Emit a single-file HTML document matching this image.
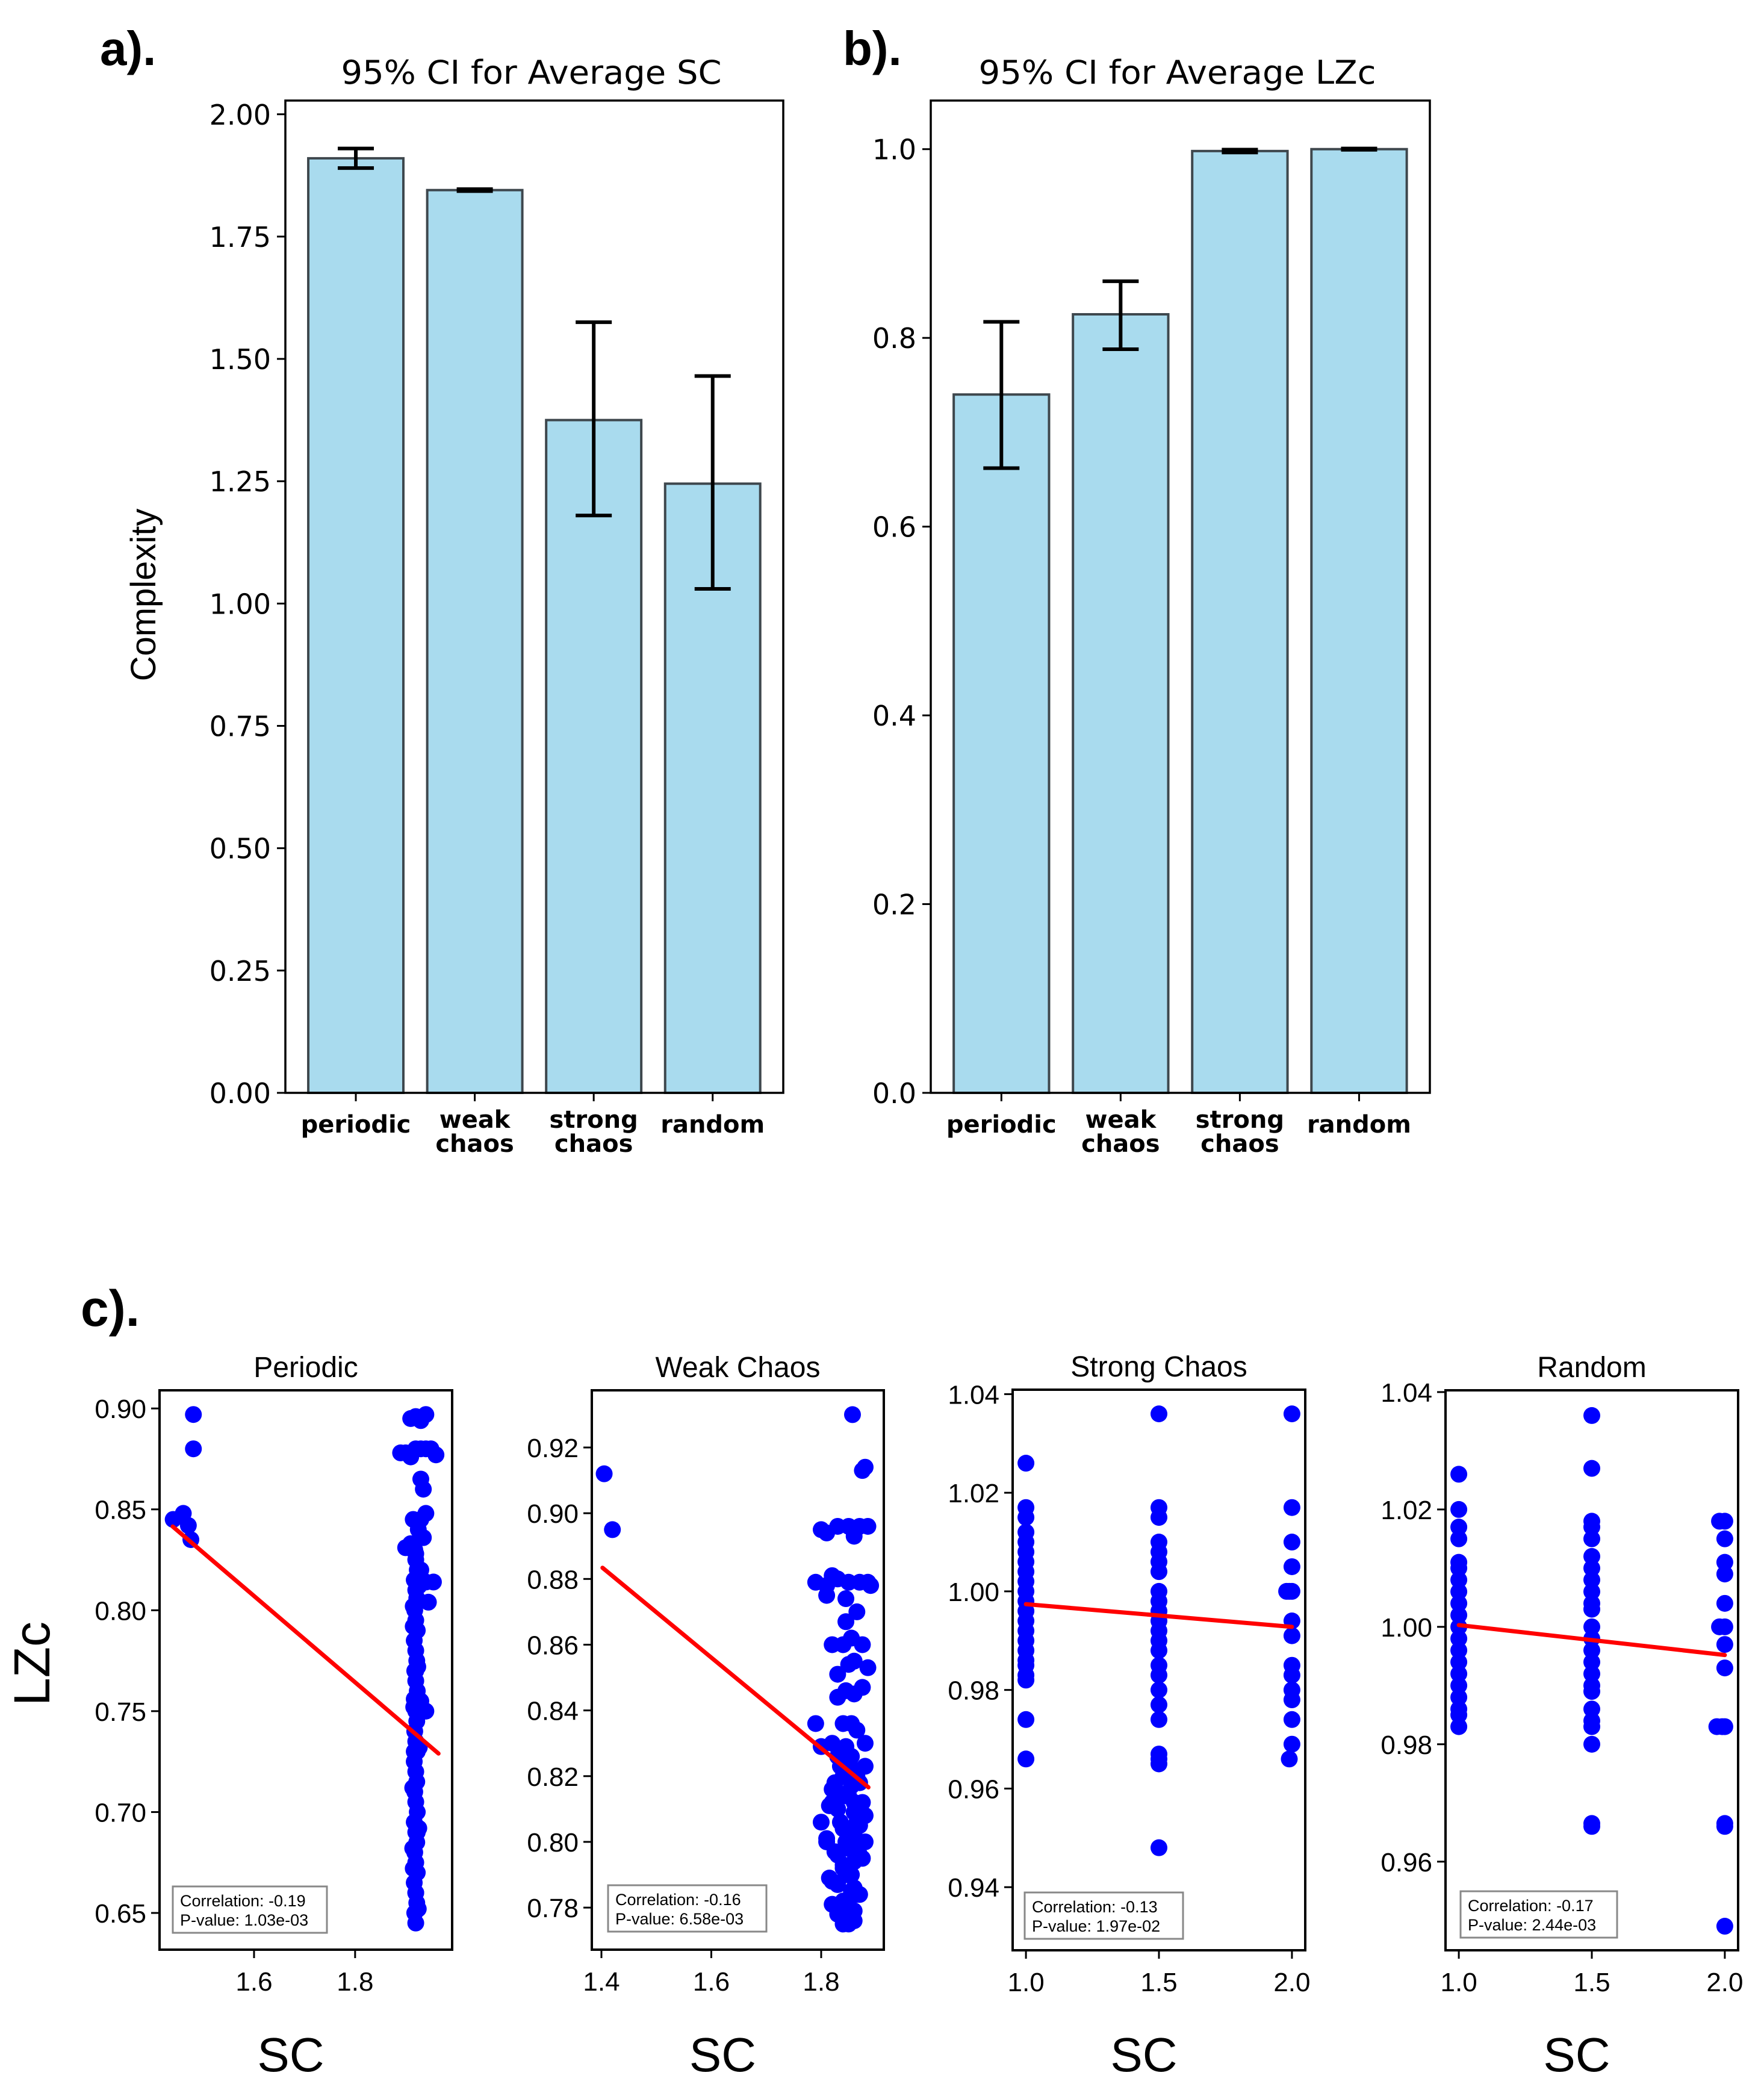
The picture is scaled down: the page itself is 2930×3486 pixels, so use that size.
<!DOCTYPE html>
<html><head><meta charset="utf-8"><style>
html,body{margin:0;padding:0;background:#fff;}
svg{display:block;}
</style></head><body>
<svg id="fig" width="2930" height="3486" viewBox="0 0 2930 3486" xmlns="http://www.w3.org/2000/svg">
<rect width="2930" height="3486" fill="#fff"/>
<text x="166" y="108" font-family="Liberation Sans, sans-serif" font-weight="bold" font-size="80">a).</text>
<text x="1400" y="108" font-family="Liberation Sans, sans-serif" font-weight="bold" font-size="80">b).</text>
<text x="134" y="2202" font-family="Liberation Sans, sans-serif" font-weight="bold" font-size="84">c).</text>
<text transform="translate(258,988) rotate(-90)" text-anchor="middle" font-family="Liberation Sans, sans-serif" font-size="58">Complexity</text>
<text transform="translate(82,2763) rotate(-90)" text-anchor="middle" font-family="Liberation Sans, sans-serif" font-size="84">LZc</text>
<g id="bars"></g>
<g id="scatters"></g>
</svg>
<script>
// ---- Bar chart data ----
const barCategories = [["periodic"], ["weak", "chaos"], ["strong", "chaos"], ["random"]];
const scMeans = [1.91, 1.845, 1.375, 1.245];
const scLow = [1.89, 1.843, 1.18, 1.03];
const scHigh = [1.93, 1.847, 1.575, 1.465];
const scTicks = ["0.00", "0.25", "0.50", "0.75", "1.00", "1.25", "1.50", "1.75", "2.00"];
const lzMeans = [0.74, 0.825, 0.998, 1.0];
const lzLow = [0.662, 0.788, 0.9965, 0.9993];
const lzHigh = [0.817, 0.86, 0.9995, 1.0007];
const lzTicks = ["0.0", "0.2", "0.4", "0.6", "0.8", "1.0"];

// ---- Scatter data ----
const perX = [1.44,1.46,1.47,1.475,1.48,1.48,
 1.89,1.90,1.91,1.92,1.93,1.94,1.95,1.96,1.91,1.92,1.93,1.94,1.93,1.935,1.93,1.94,1.915,1.925,1.935,1.90,1.91,1.92,1.93,1.94,1.955,1.925,1.945,1.915,1.94,1.93,
 1.92,1.918,1.922,1.92,1.917,1.923,1.92,1.918,1.922,1.92,1.917,1.923,1.92,1.918,1.922,1.92,1.917,1.923,1.92,1.918,1.922,1.92,1.917,1.923,1.92,1.918,1.922,1.92,1.917,1.923,1.92,1.918,1.922,1.92,1.917,1.923,1.92,1.918,1.922,1.92,1.917,1.923,1.92,
 1.925,1.915,1.926,1.914,1.927,1.916,1.924,1.915,1.926,1.914];
const perY = [0.845,0.848,0.842,0.835,0.897,0.88,
 0.878,0.878,0.876,0.88,0.88,0.88,0.88,0.877,0.895,0.896,0.894,0.897,0.865,0.86,0.845,0.848,0.845,0.84,0.836,0.831,0.833,0.828,0.82,0.814,0.814,0.814,0.804,0.802,0.75,0.755,
 0.645,0.65,0.655,0.66,0.665,0.67,0.675,0.68,0.685,0.69,0.695,0.70,0.705,0.71,0.715,0.72,0.725,0.73,0.735,0.74,0.745,0.75,0.756,0.76,0.765,0.77,0.775,0.78,0.785,0.79,0.795,0.80,0.806,0.81,0.815,0.82,0.825,0.83,0.79,0.77,0.73,0.69,0.66,
 0.652,0.672,0.692,0.712,0.732,0.752,0.772,0.792,0.812,0.682];
const weakX = [1.405,1.42,1.857,1.875,1.88,1.80,1.81,1.83,1.85,1.86,1.87,1.885,1.79,1.81,1.82,1.83,1.85,1.87,1.885,1.89,1.81,1.845,1.865,1.845,1.82,1.84,1.855,1.875,1.83,1.85,1.86,1.885,1.83,1.845,1.86,1.875,1.79,1.84,1.855,1.80,1.82,1.88,
 1.83,1.85,1.86,1.84,1.87,1.82,1.85,1.86,1.83,1.88,1.80,1.84,1.86,1.87,1.81,1.85,1.83,1.86,1.88,1.84,1.85,1.82,1.86,1.87,1.84,1.85,1.83,1.86,1.84,1.85,1.87,1.83,1.845,1.855,1.865,
 1.81,1.82,1.835,1.845,1.855,1.865,1.875,1.815,1.825,1.835,1.845,1.855,1.865,1.875,1.82,1.83,1.84,1.85,1.86,1.87,1.88,1.825,1.835,1.845,1.855,1.865,1.815,1.84,1.86,1.87];
const weakY = [0.912,0.895,0.93,0.913,0.914,0.895,0.894,0.896,0.896,0.893,0.896,0.896,0.879,0.878,0.881,0.88,0.879,0.879,0.879,0.878,0.875,0.874,0.87,0.867,0.86,0.86,0.862,0.86,0.851,0.854,0.855,0.853,0.844,0.846,0.845,0.847,0.836,0.836,0.836,0.829,0.83,0.83,
 0.826,0.824,0.822,0.82,0.818,0.816,0.814,0.812,0.81,0.808,0.806,0.804,0.802,0.80,0.80,0.798,0.796,0.794,0.80,0.792,0.79,0.788,0.786,0.784,0.782,0.78,0.778,0.776,0.775,0.775,0.808,0.815,0.79,0.785,0.82,
 0.801,0.812,0.823,0.829,0.817,0.806,0.795,0.789,0.797,0.806,0.814,0.826,0.834,0.812,0.781,0.787,0.793,0.803,0.809,0.796,0.823,0.818,0.827,0.8,0.79,0.784,0.811,0.777,0.779,0.805];
const strongX = [1,1,1,1,1,1,1,1,1,1,1,1,1,1,1,1,1,1,1,1,1,1,
 1.5,1.5,1.5,1.5,1.5,1.5,1.5,1.5,1.5,1.5,1.5,1.5,1.5,1.5,1.5,1.5,1.5,1.5,1.5,1.5,1.5,1.5,1.5,
 2,2,2,2,1.98,1.99,2,2,2,2,2,2,2,2,2,1.99];
const strongY = [1.026,1.017,1.015,1.012,1.01,1.008,1.006,1.004,1.002,1.0,0.998,0.996,0.994,0.992,0.99,0.988,0.986,0.985,0.983,0.982,0.974,0.966,
 1.036,1.017,1.015,1.01,1.008,1.006,1.004,1.0,0.998,0.996,0.994,0.992,0.99,0.988,0.985,0.983,0.98,0.977,0.974,0.967,0.966,0.965,0.948,
 1.036,1.017,1.01,1.005,1.0,1.0,1.0,0.994,0.991,0.985,0.983,0.98,0.978,0.974,0.969,0.966];
const randX = [1,1,1,1,1,1,1,1,1,1,1,1,1,1,1,1,1,1,1,1,
 1.5,1.5,1.5,1.5,1.5,1.5,1.5,1.5,1.5,1.5,1.5,1.5,1.5,1.5,1.5,1.5,1.5,1.5,1.5,1.5,1.5,1.5,1.5,1.5,
 1.98,2,2,2,2,1.98,2,2,2,2,1.97,1.99,2,2,2,2];
const randY = [1.026,1.02,1.017,1.015,1.011,1.01,1.008,1.006,1.004,1.002,1.0,0.998,0.996,0.994,0.992,0.99,0.988,0.986,0.985,0.983,
 1.036,1.027,1.018,1.017,1.015,1.012,1.01,1.008,1.006,1.004,1.003,1.0,0.998,0.996,0.994,0.992,0.99,0.989,0.986,0.984,0.983,0.98,0.9665,0.966,
 1.018,1.018,1.015,1.011,1.009,1.0,1.0,1.004,0.997,0.993,0.983,0.983,0.983,0.9665,0.966,0.949];
const corrText = ["Correlation: -0.19", "Correlation: -0.16", "Correlation: -0.13", "Correlation: -0.17"];
const pText = ["P-value: 1.03e-03", "P-value: 6.58e-03", "P-value: 1.97e-02", "P-value: 2.44e-03"];
const fitStart = [0.8415, 0.8834, 0.9974, 1.0003];
const fitEnd = [0.729, 0.8166, 0.9928, 0.9952];
const panelTitles = ["Periodic", "Weak Chaos", "Strong Chaos", "Random"];
const perTicksY = ["0.65","0.70","0.75","0.80","0.85","0.90"];
const perTicksX = ["1.6","1.8"];
const weakTicksY = ["0.78","0.80","0.82","0.84","0.86","0.88","0.90","0.92"];
const weakTicksX = ["1.4","1.6","1.8"];
const strongTicksY = ["0.94","0.96","0.98","1.00","1.02","1.04"];
const randTicksY = ["0.96","0.98","1.00","1.02","1.04"];
const unitTicksX = ["1.0","1.5","2.0"];

const NS = "http://www.w3.org/2000/svg";
function mk(tag, attrs, parent) {
  const e = document.createElementNS(NS, tag);
  for (const k in attrs) e.setAttribute(k, attrs[k]);
  parent.appendChild(e);
  return e;
}

function barChart(cfg) {
  const g = mk("g", {}, document.getElementById("bars"));
  
  
  const L = cfg.left, R = cfg.right, T = cfg.top, B = cfg.bottom;
  const y = v => B - (v - cfg.ymin) / (cfg.ymax - cfg.ymin) * (B - T);
  const W = R - L;
  const xc = i => L + W * (0.1415 + i * 0.2389);
  const bw = W * 0.191;
  for (let i = 0; i < cfg.means.length; i++) {
    const b = mk("rect", {x: xc(i) - bw / 2, y: y(cfg.means[i]), width: bw, height: y(0) - y(cfg.means[i]), fill: "#a9dbee", stroke: "#3e474d", "stroke-width": 4}, g);
    
    
    const eb = mk("g", {stroke: "#000", "stroke-width": 6}, g);
    
    
    mk("line", {x1: xc(i), x2: xc(i), y1: y(cfg.low[i]), y2: y(cfg.high[i])}, eb);
    mk("line", {x1: xc(i) - 30, x2: xc(i) + 30, y1: y(cfg.low[i]), y2: y(cfg.low[i])}, eb);
    mk("line", {x1: xc(i) - 30, x2: xc(i) + 30, y1: y(cfg.high[i]), y2: y(cfg.high[i])}, eb);
    mk("line", {x1: xc(i), x2: xc(i), y1: B, y2: B + 14, stroke: "#000", "stroke-width": 3}, g);
    const lines = barCategories[i];
    lines.forEach((s, k) => {
      const t = mk("text", {x: xc(i), y: lines.length === 1 ? B + 66 : B + 58 + k * 40, "text-anchor": "middle", "font-family": "DejaVu Sans, sans-serif", "font-weight": "bold", "font-size": 40}, g);
      
      
      t.textContent = s;
    });
  }
  cfg.ticks.forEach(s => {
    const v = parseFloat(s);
    mk("line", {x1: L - 14, x2: L, y1: y(v), y2: y(v), stroke: "#000", "stroke-width": 3}, g);
    const t = mk("text", {x: L - 24, y: y(v) + 17, "text-anchor": "end", "font-family": "DejaVu Sans, sans-serif", "font-size": 46}, g);
    
    
    t.textContent = s;
  });
  const f = mk("rect", {x: L, y: T, width: W, height: B - T, fill: "none", stroke: "#000", "stroke-width": 3.5}, g);
  
  
  const tt = mk("text", {x: (L + R) / 2 - 5, y: T - 28, "text-anchor": "middle", "font-family": "DejaVu Sans, sans-serif", "font-size": 54, textLength: cfg.titleLen, lengthAdjust: "spacingAndGlyphs"}, g);
  
  
  tt.textContent = cfg.title;
}
barChart({name: "sc-bar-chart", left: 474, right: 1301, top: 167, bottom: 1815, ymin: 0, ymax: 2.028, means: scMeans, low: scLow, high: scHigh, ticks: scTicks, title: "95% CI for Average SC", titleLen: 632});
barChart({name: "lzc-bar-chart", left: 1546, right: 2375, top: 167, bottom: 1815, ymin: 0, ymax: 1.0515, means: lzMeans, low: lzLow, high: lzHigh, ticks: lzTicks, title: "95% CI for Average LZc", titleLen: 660});

function scatter(cfg, idx) {
  const g = mk("g", {}, document.getElementById("scatters"));
  
  
  const L = cfg.left, R = cfg.right, T = cfg.top, B = cfg.bottom;
  const x = v => L + (v - cfg.xmin) / (cfg.xmax - cfg.xmin) * (R - L);
  const y = v => B - (v - cfg.ymin) / (cfg.ymax - cfg.ymin) * (B - T);
  const clip = mk("clipPath", {id: "clip" + idx}, g);
  mk("rect", {x: L, y: T, width: R - L, height: B - T}, clip);
  const pts = mk("g", {"clip-path": "url(#clip" + idx + ")"}, g);
  for (let i = 0; i < cfg.xs.length; i++) {
    const c = mk("circle", {cx: x(cfg.xs[i]), cy: y(cfg.ys[i]), r: 14, fill: "#0000ff"}, pts);
    
    
  }
  const ln = mk("line", {x1: x(cfg.fx[0]), y1: y(fitStart[idx]), x2: x(cfg.fx[1]), y2: y(fitEnd[idx]), stroke: "#ff0000", "stroke-width": 7, "stroke-linecap": "round"}, g);
  
  
  cfg.ty.forEach(s => {
    const v = parseFloat(s);
    mk("line", {x1: L - 14, x2: L, y1: y(v), y2: y(v), stroke: "#000", "stroke-width": 3}, g);
    const t = mk("text", {x: L - 22, y: y(v) + 16, "text-anchor": "end", "font-family": "Liberation Sans, sans-serif", "font-size": 44}, g);
    
    
    t.textContent = s;
  });
  cfg.tx.forEach(s => {
    const v = parseFloat(s);
    mk("line", {x1: x(v), x2: x(v), y1: B, y2: B + 14, stroke: "#000", "stroke-width": 3}, g);
    const t = mk("text", {x: x(v), y: B + 68, "text-anchor": "middle", "font-family": "Liberation Sans, sans-serif", "font-size": 44}, g);
    
    
    t.textContent = s;
  });
  const f = mk("rect", {x: L, y: T, width: R - L, height: B - T, fill: "none", stroke: "#000", "stroke-width": 4}, g);
  
  
  const bx = mk("rect", {x: cfg.box[0], y: cfg.box[1], width: cfg.box[2], height: 77, fill: "#fff", "fill-opacity": 0.8, stroke: "#888", "stroke-width": 3}, g);
  
  
  const t1 = mk("text", {x: cfg.box[0] + 12, y: cfg.box[1] + 33, "font-family": "Liberation Sans, sans-serif", "font-size": 27}, g);
  
  
  t1.textContent = corrText[idx];
  const t2 = mk("text", {x: cfg.box[0] + 12, y: cfg.box[1] + 65, "font-family": "Liberation Sans, sans-serif", "font-size": 27}, g);
  
  
  t2.textContent = pText[idx];
  const tt = mk("text", {x: (L + R) / 2, y: T - 22, "text-anchor": "middle", "font-family": "Liberation Sans, sans-serif", "font-size": 48}, g);
  
  
  tt.textContent = panelTitles[idx];
  const xl = mk("text", {x: (L + R) / 2 - 25, y: 3440, "text-anchor": "middle", "font-family": "Liberation Sans, sans-serif", "font-size": 80}, g);
  
  
  xl.textContent = "SC";
}
scatter({name: "periodic-scatter", left: 265, right: 751, top: 2309, bottom: 3238, xmin: 1.413, xmax: 1.992, ymin: 0.6318, ymax: 0.909, xs: perX, ys: perY, fx: [1.439, 1.965], tx: perTicksX, ty: perTicksY, box: [287, 3133, 256]}, 0);
scatter({name: "weak-chaos-scatter", left: 983, right: 1468, top: 2309, bottom: 3238, xmin: 1.3825, xmax: 1.914, ymin: 0.7672, ymax: 0.9374, xs: weakX, ys: weakY, fx: [1.402, 1.886], tx: weakTicksX, ty: weakTicksY, box: [1010, 3131, 263]}, 1);
scatter({name: "strong-chaos-scatter", left: 1682, right: 2168, top: 2308, bottom: 3239, xmin: 0.95, xmax: 2.05, ymin: 0.9272, ymax: 1.0409, xs: strongX, ys: strongY, fx: [1.0, 2.0], tx: unitTicksX, ty: strongTicksY, box: [1702, 3143, 263]}, 2);
scatter({name: "random-scatter", left: 2401, right: 2887, top: 2309, bottom: 3239, xmin: 0.95, xmax: 2.05, ymin: 0.9449, ymax: 1.0403, xs: randX, ys: randY, fx: [1.0, 2.0], tx: unitTicksX, ty: randTicksY, box: [2426, 3141, 260]}, 3);
</script>
</body></html>
